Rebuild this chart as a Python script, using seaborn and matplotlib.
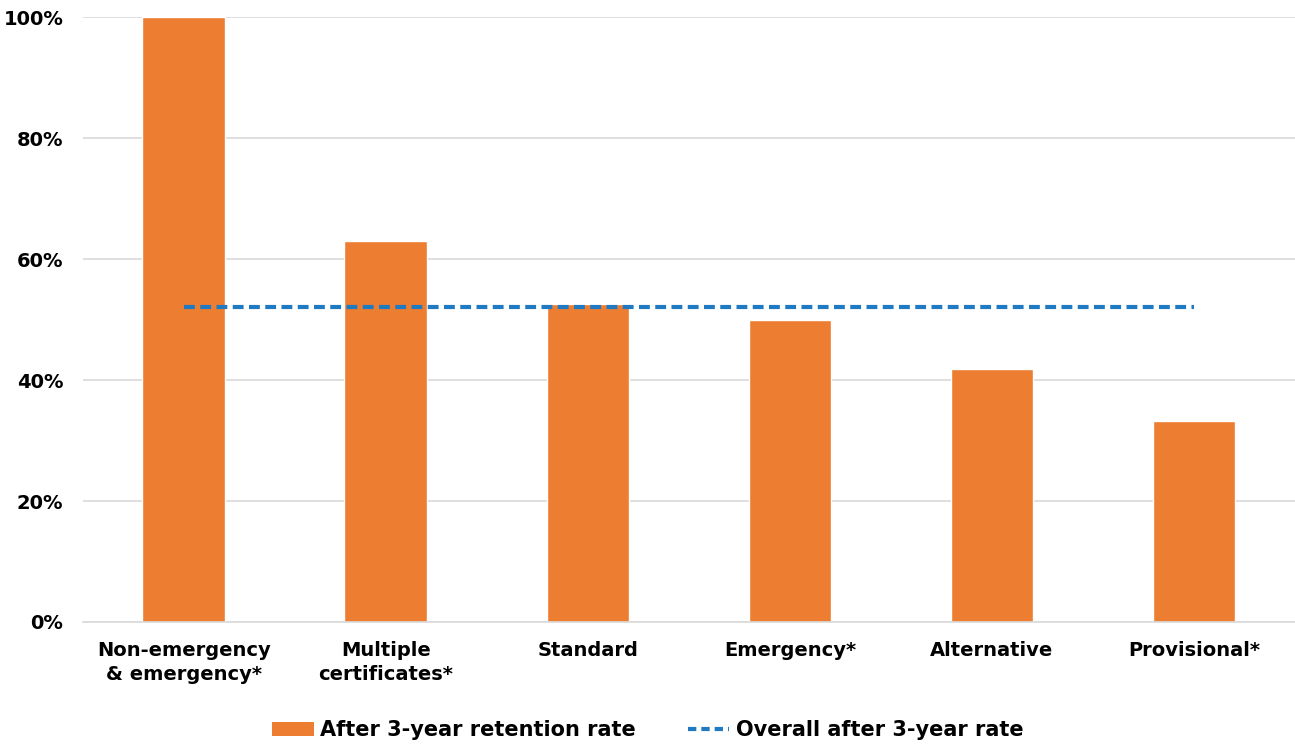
import numpy as np
import pandas as pd
import matplotlib
matplotlib.use("Agg")
import matplotlib.pyplot as plt
import seaborn as sns
from matplotlib.ticker import PercentFormatter
from matplotlib.patches import Patch
from matplotlib.lines import Line2D

categories = ["Non-emergency\n& emergency*", "Multiple\ncertificates*", "Standard",
              "Emergency*", "Alternative", "Provisional*"]
retention = [1.00, 0.63, 0.526, 0.50, 0.418, 0.333]
overall_rate = 0.52

bar_color = "#ED7D31"
line_color = "#1F7AC2"

sns.set_theme(style="white")
plt.rcParams["font.family"] = ["DejaVu Sans"]
plt.rcParams["font.weight"] = "bold"
plt.rcParams["text.color"] = "black"

df = pd.DataFrame({"category": categories, "rate": retention})

fig = plt.figure(figsize=(12.95, 7.44), dpi=100)
ax = fig.add_axes([0.064, 0.164, 0.936, 0.813])

sns.barplot(data=df, x="category", y="rate", color=bar_color, width=0.41,
            saturation=1, ax=ax, zorder=2)
ax.hlines(overall_rate, 0, len(categories) - 1, colors=line_color,
          linestyles=(0, (2.6, 1.3)), linewidth=3, zorder=3)

ax.set_ylim(0, 1)
ax.set_xlim(-0.5, len(categories) - 0.5)
ax.set_yticks(np.arange(0, 1.01, 0.2))
ax.yaxis.set_major_formatter(PercentFormatter(1.0, decimals=0))
ax.grid(axis="y", color="#D9D9D9", linewidth=1.2, zorder=0)
ax.set_axisbelow(True)
for s in ["top", "right", "left"]:
    ax.spines[s].set_visible(False)
ax.spines["bottom"].set_color("#D9D9D9")
ax.spines["bottom"].set_linewidth(1.2)
ax.set_xlabel("")
ax.set_ylabel("")
ax.tick_params(axis="y", length=0, pad=14, labelsize=14)
ax.tick_params(axis="x", length=0, pad=14, labelsize=14)
for lab in ax.get_xticklabels() + ax.get_yticklabels():
    lab.set_fontweight("bold")
    lab.set_color("black")
    lab.set_linespacing(1.3)

handles = [Patch(facecolor=bar_color, edgecolor="none", label="After 3-year retention rate"),
           Line2D([0], [0], color=line_color, linewidth=3, linestyle=(0, (2, 1.2)),
                  label="Overall after 3-year rate")]
leg = fig.legend(handles=handles, loc="lower center", bbox_to_anchor=(0.5, -0.02), ncol=2,
                 frameon=False, prop={"size": 15, "weight": "bold"}, handlelength=2.0,
                 handletextpad=0.3, columnspacing=2.5)
for t in leg.get_texts():
    t.set_color("black")

fig.savefig("out.png", dpi=100)
